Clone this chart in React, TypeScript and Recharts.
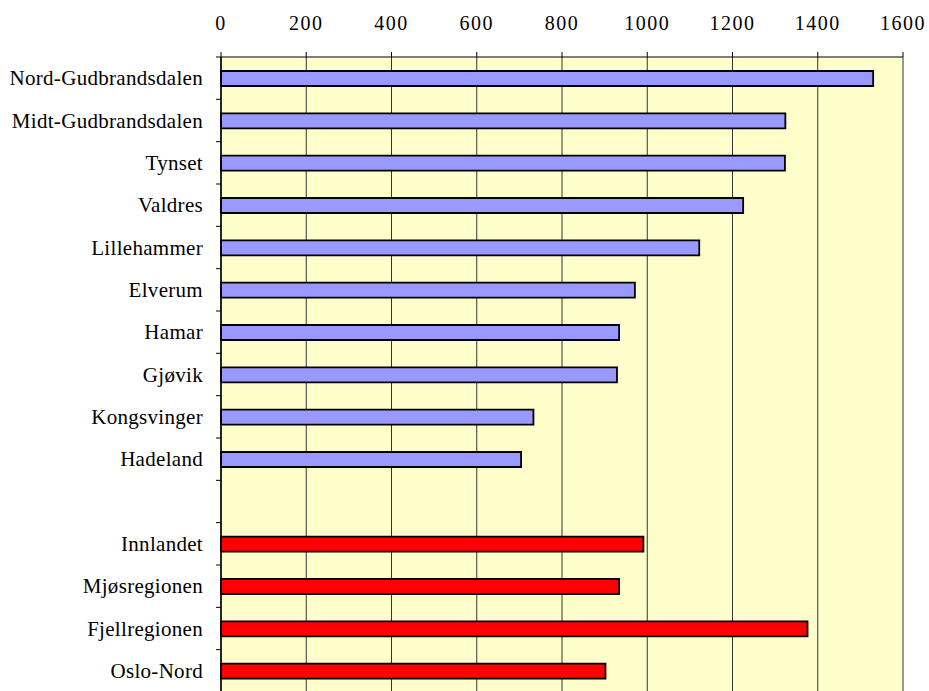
import React from "react";
import { BarChart, Bar, XAxis, YAxis, CartesianGrid, Cell, ReferenceLine } from "recharts";

const regions = [
  "Nord-Gudbrandsdalen",
  "Midt-Gudbrandsdalen",
  "Tynset",
  "Valdres",
  "Lillehammer",
  "Elverum",
  "Hamar",
  "Gjøvik",
  "Kongsvinger",
  "Hadeland",
];
const regionValues = [1530, 1324, 1323, 1225, 1122, 971, 934, 929, 733, 704];

const aggregates = ["Innlandet", "Mjøsregionen", "Fjellregionen", "Oslo-Nord"];
const aggregateValues = [991, 934, 1376, 902];

const xTicks = [0, 200, 400, 600, 800, 1000, 1200, 1400, 1600];

const REGION_COLOR = "#9999FF";
const AGGREGATE_COLOR = "#FF0000";

const data = [
  ...regions.map((name, i) => ({ name, value: regionValues[i], color: REGION_COLOR })),
  { name: "", value: null as number | null, color: REGION_COLOR },
  ...aggregates.map((name, i) => ({ name, value: aggregateValues[i], color: AGGREGATE_COLOR })),
];

const FONT = "Liberation Serif, Times New Roman, serif";
const TICK_GAP = 18;

const CategoryTick = (props: any) => {
  const { x, y, payload } = props;
  const half = payload && payload.offset ? payload.offset : 0;
  const axisX = x + TICK_GAP;
  return (
    <g>
      <line x1={axisX - 5} x2={axisX} y1={y - half} y2={y - half} stroke="#000" strokeWidth={1} />
      <text
        x={x}
        y={y}
        textAnchor="end"
        dominantBaseline="central"
        style={{ fontFamily: FONT, fontSize: 21, fill: "#000", letterSpacing: "0.3px" }}
      >
        {payload.value}
      </text>
    </g>
  );
};

const NumberTick = (props: any) => {
  const { x, y, payload } = props;
  return (
    <text
      x={x}
      y={y}
      textAnchor="middle"
      style={{ fontFamily: FONT, fontSize: 20, fill: "#000", letterSpacing: "1.5px" }}
    >
      {payload.value}
    </text>
  );
};

export default function App() {
  return (
    <div style={{ position: "absolute", left: 0, top: 0, fontFamily: FONT }}>
      <style>{"body{margin:0;overflow:hidden}"}</style>
      <BarChart
        width={929}
        height={700}
        data={data}
        layout="vertical"
        margin={{ top: 0, right: 26, bottom: 8, left: 0 }}
        barCategoryGap={0}
        style={{ fontFamily: FONT }}
      >
        <CartesianGrid horizontal={false} vertical={true} stroke="#333" fill="#FFFFCC" fillOpacity={1} />
        <XAxis
          type="number"
          orientation="top"
          domain={[0, 1600]}
          ticks={xTicks}
          interval={0}
          height={57}
          tickSize={5}
          tickMargin={22}
          axisLine={{ stroke: "#000" }}
          tickLine={{ stroke: "#000" }}
          tick={<NumberTick />}
        />
        <YAxis
          type="category"
          dataKey="name"
          width={221}
          interval={0}
          tickLine={false}
          tickSize={5}
          tickMargin={13}
          axisLine={{ stroke: "#000", strokeWidth: 1.5 }}
          tick={<CategoryTick />}
        />
        <ReferenceLine x={1600} stroke="#999" strokeWidth={2} />
        <Bar dataKey="value" barSize={15} stroke="#000" strokeWidth={1.8} isAnimationActive={false}>
          {data.map((d, i) => (
            <Cell key={i} fill={d.color} />
          ))}
        </Bar>
      </BarChart>
    </div>
  );
}
